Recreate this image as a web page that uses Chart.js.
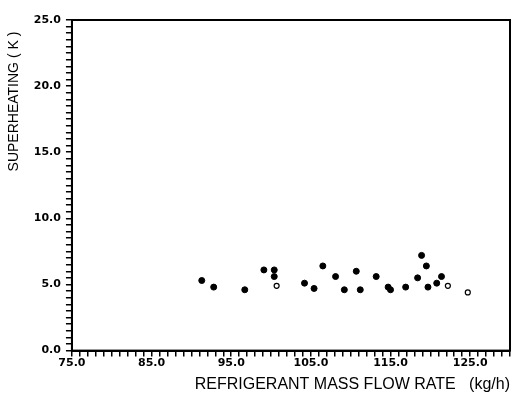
<!DOCTYPE html>
<html lang="en">
<head>
  <meta charset="UTF-8">
  <title>Superheating vs refrigerant mass flow rate</title>
  <script src="https://cdn.jsdelivr.net/npm/chart.js"></script>
  <style>
    html, body {
      margin: 0;
      padding: 0;
      background: #fff;
    }
    #wrap {
      width: 522px;
      height: 397px;
    }
  </style>
</head>
<body>
<div id="wrap"><canvas id="grafico"></canvas></div>

<script>
// measured points (filled markers)
const flowFilled = [91.3, 92.8, 96.7, 99.1, 100.4, 100.4, 104.2, 105.4, 106.5, 108.1, 109.2, 110.7,
                    111.2, 113.2, 114.7, 115.0, 116.9, 118.4, 118.9, 119.5, 119.7, 120.8, 121.4];
const heatFilled = [5.3, 4.8, 4.6, 6.1, 6.1, 5.6, 5.1, 4.7, 6.4, 5.6, 4.6, 6.0,
                    4.6, 5.6, 4.8, 4.6, 4.8, 5.5, 7.2, 6.4, 4.8, 5.1, 5.6];
// open markers
const flowOpen = [100.7, 122.2, 124.7];
const heatOpen = [4.9, 4.9, 4.4];

const xLabels = [75, 85, 95, 105, 115, 125];
const yLabels = [0, 5, 10, 15, 20, 25];

const toPoints = (xs, ys) => xs.map((x, i) => ({ x: x, y: ys[i] }));

// box around the plot
const frame = {
  id: 'frame',
  afterDraw(chart) {
    const a = chart.chartArea;
    const c = chart.ctx;
    c.save();
    c.strokeStyle = '#000';
    c.lineWidth = 2;
    c.strokeRect(a.left, a.top, a.right - a.left, a.bottom - a.top);
    c.restore();
  }
};

const tickFont = { family: 'DejaVu Sans', size: 11, weight: 'bold' };

new Chart(document.getElementById('grafico'), {
  type: 'scatter',
  data: {
    datasets: [
      {
        data: toPoints(flowFilled, heatFilled),
        pointRadius: 3,
        pointBackgroundColor: '#000',
        pointBorderColor: '#000',
        pointBorderWidth: 1
      },
      {
        data: toPoints(flowOpen, heatOpen),
        pointRadius: 2.5,
        pointBackgroundColor: '#fff',
        pointBorderColor: '#000',
        pointBorderWidth: 1.2
      }
    ]
  },
  plugins: [frame],
  options: {
    responsive: true,
    maintainAspectRatio: false,
    animation: false,
    layout: { padding: { top: 20, right: 12, left: 6, bottom: 3 } },
    plugins: {
      legend: { display: false },
      tooltip: { enabled: false }
    },
    scales: {
      x: {
        type: 'linear',
        min: 75,
        max: 130,
        border: { color: '#000', width: 2 },
        grid: { drawOnChartArea: false, color: '#000', tickLength: 6, lineWidth: 1.5 },
        ticks: {
          stepSize: 1,
          autoSkip: false,
          maxTicksLimit: 100,
          maxRotation: 0,
          padding: 0,
          color: '#000',
          font: tickFont,
          callback: v => xLabels.includes(v) ? v.toFixed(1) : ''
        },
        title: {
          display: true,
          text: 'REFRIGERANT MASS FLOW RATE   (kg/h)',
          align: 'end',
          color: '#000',
          font: { family: 'Liberation Sans', size: 16 },
          padding: { top: 5, bottom: 0 }
        }
      },
      y: {
        min: 0,
        max: 25,
        border: { color: '#000', width: 2 },
        grid: { drawOnChartArea: false, color: '#000', tickLength: 6, lineWidth: 1.5 },
        ticks: {
          stepSize: 0.5,
          autoSkip: false,
          maxTicksLimit: 100,
          padding: 5,
          color: '#000',
          font: tickFont,
          callback: v => yLabels.includes(v) ? v.toFixed(1) : ''
        },
        title: {
          display: true,
          text: 'SUPERHEATING ( K )   ',
          align: 'end',
          color: '#000',
          font: { family: 'Liberation Sans', size: 14 },
          padding: { top: 0, bottom: 6 }
        }
      }
    }
  }
});
</script>
</body>
</html>
